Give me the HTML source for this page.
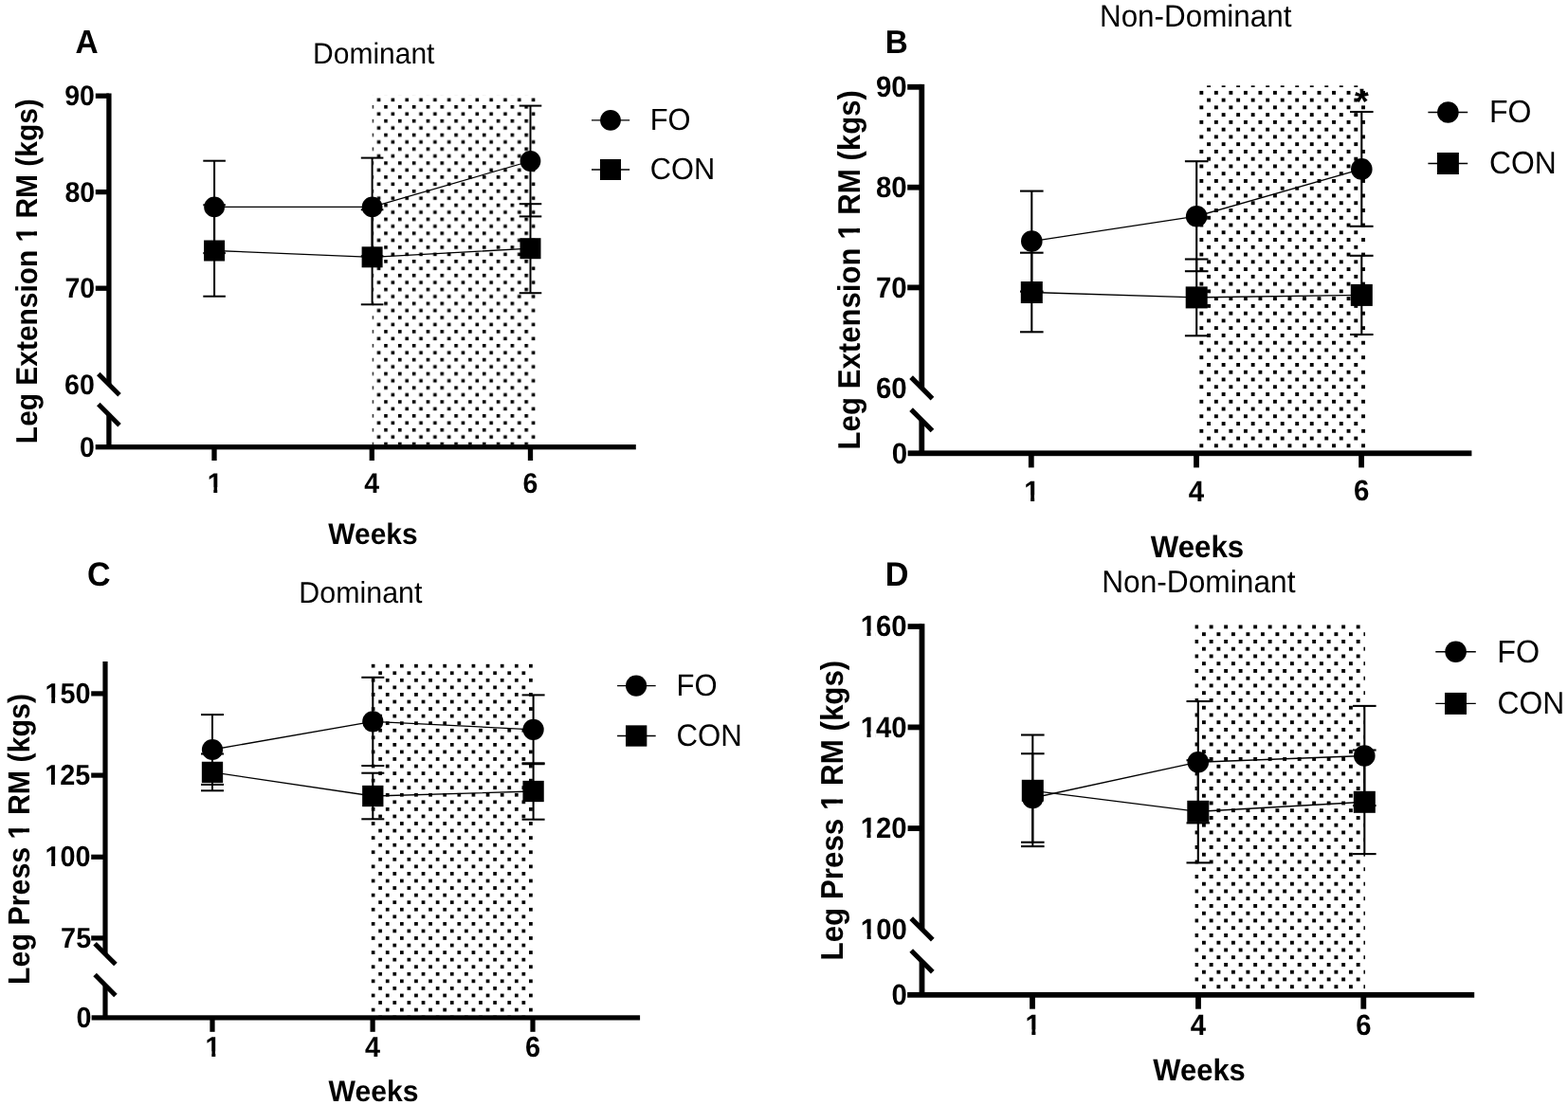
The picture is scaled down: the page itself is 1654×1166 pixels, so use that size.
<!DOCTYPE html>
<html><head><meta charset="utf-8"><title>Figure</title>
<style>
html,body{margin:0;padding:0;background:#fff;}
svg{display:block;}
text{font-family:'Liberation Sans', Arial, Helvetica, sans-serif;fill:#000;text-rendering:geometricPrecision;}
</style></head>
<body>
<svg width="1654" height="1166" viewBox="0 0 1654 1166">
<defs>
<pattern id='stA' patternUnits='userSpaceOnUse' x='405.2' y='333.3' width='14.82' height='14.82'><rect x='0' y='0' width='3.6' height='3.6'/><rect x='7.41' y='7.41' width='3.6' height='3.6'/></pattern>
<pattern id='stB' patternUnits='userSpaceOnUse' x='1273.15' y='336.45' width='15.52' height='15.52'><rect x='0' y='0' width='3.9' height='3.9'/><rect x='7.76' y='7.76' width='3.9' height='3.9'/></pattern>
<pattern id='stC' patternUnits='userSpaceOnUse' x='406.85' y='882.25' width='15.12' height='15.12'><rect x='0' y='0' width='3.7' height='3.7'/><rect x='7.56' y='7.56' width='3.7' height='3.7'/></pattern>
<pattern id='stD' patternUnits='userSpaceOnUse' x='1283.45' y='884.25' width='15.5' height='15.5'><rect x='0' y='0' width='3.9' height='3.9'/><rect x='7.75' y='7.75' width='3.9' height='3.9'/></pattern>
<clipPath id='c1' clipPathUnits='userSpaceOnUse'><path clip-rule='evenodd' d='M-14.25,-42.75H30.1V17.1H-14.25ZM-1.43,-5.7H6.65V4.27H-1.43ZM10.56,-5.7H15.68V4.27H10.56Z'/></clipPath>
<clipPath id='c2' clipPathUnits='userSpaceOnUse'><path clip-rule='evenodd' d='M-14.96,-44.87H378.95V17.95H-14.96ZM211.25,-5.98H219.73V4.49H211.25ZM223.83,-5.98H229.2V4.49H223.83Z'/></clipPath>
<clipPath id='c3' clipPathUnits='userSpaceOnUse'><path clip-rule='evenodd' d='M-14.75,-44.25H31.16V17.7H-14.75ZM-1.48,-5.9H6.89V4.42H-1.48ZM10.93,-5.9H16.23V4.42H10.93Z'/></clipPath>
<clipPath id='c4' clipPathUnits='userSpaceOnUse'><path clip-rule='evenodd' d='M-15.59,-46.77H395.03V18.71H-15.59ZM220.21,-6.24H229.05V4.68H220.21ZM233.33,-6.24H238.92V4.68H233.33Z'/></clipPath>
<clipPath id='c5' clipPathUnits='userSpaceOnUse'><path clip-rule='evenodd' d='M-14.43,-43.28H62.56V17.31H-14.43ZM-1.44,-5.77H6.73V4.33H-1.44ZM10.69,-5.77H15.87V4.33H10.69Z'/></clipPath>
<clipPath id='c6' clipPathUnits='userSpaceOnUse'><path clip-rule='evenodd' d='M-14.43,-43.28H62.56V17.31H-14.43ZM-1.44,-5.77H6.73V4.33H-1.44ZM10.69,-5.77H15.87V4.33H10.69Z'/></clipPath>
<clipPath id='c7' clipPathUnits='userSpaceOnUse'><path clip-rule='evenodd' d='M-14.43,-43.28H62.56V17.31H-14.43ZM-1.44,-5.77H6.73V4.33H-1.44ZM10.69,-5.77H15.87V4.33H10.69Z'/></clipPath>
<clipPath id='c8' clipPathUnits='userSpaceOnUse'><path clip-rule='evenodd' d='M-14.43,-43.28H30.47V17.31H-14.43ZM-1.44,-5.77H6.73V4.33H-1.44ZM10.69,-5.77H15.87V4.33H10.69Z'/></clipPath>
<clipPath id='c9' clipPathUnits='userSpaceOnUse'><path clip-rule='evenodd' d='M-15.18,-45.54H322.25V18.22H-15.18ZM152.04,-6.07H160.65V4.55H152.04ZM164.81,-6.07H170.26V4.55H164.81Z'/></clipPath>
<clipPath id='c10' clipPathUnits='userSpaceOnUse'><path clip-rule='evenodd' d='M-14.65,-43.95H63.54V17.58H-14.65ZM-1.47,-5.86H6.84V4.39H-1.47ZM10.86,-5.86H16.12V4.39H10.86Z'/></clipPath>
<clipPath id='c11' clipPathUnits='userSpaceOnUse'><path clip-rule='evenodd' d='M-14.65,-43.95H63.54V17.58H-14.65ZM-1.47,-5.86H6.84V4.39H-1.47ZM10.86,-5.86H16.12V4.39H10.86Z'/></clipPath>
<clipPath id='c12' clipPathUnits='userSpaceOnUse'><path clip-rule='evenodd' d='M-14.65,-43.95H63.54V17.58H-14.65ZM-1.47,-5.86H6.84V4.39H-1.47ZM10.86,-5.86H16.12V4.39H10.86Z'/></clipPath>
<clipPath id='c13' clipPathUnits='userSpaceOnUse'><path clip-rule='evenodd' d='M-14.65,-43.95H63.54V17.58H-14.65ZM-1.47,-5.86H6.84V4.39H-1.47ZM10.86,-5.86H16.12V4.39H10.86Z'/></clipPath>
<clipPath id='c14' clipPathUnits='userSpaceOnUse'><path clip-rule='evenodd' d='M-14.65,-43.95H30.95V17.58H-14.65ZM-1.47,-5.86H6.84V4.39H-1.47ZM10.86,-5.86H16.12V4.39H10.86Z'/></clipPath>
<clipPath id='c15' clipPathUnits='userSpaceOnUse'><path clip-rule='evenodd' d='M-15.66,-46.98H332.44V18.79H-15.66ZM156.85,-6.26H165.73V4.7H156.85ZM170.02,-6.26H175.64V4.7H170.02Z'/></clipPath>
</defs>
<rect width="1654" height="1166" fill="#fff"/>
<rect x='392.7' y='100.5' width='172.3' height='368.5' fill='url(#stA)'/>
<rect x='112.25' y='98.5' width='5.3' height='307.2'/>
<rect x='112.25' y='437.6' width='5.3' height='34.1'/>
<rect x='100.8' y='98.55' width='14.1' height='5.3'/>
<rect x='100.8' y='199.95' width='14.1' height='5.3'/>
<rect x='100.8' y='301.55' width='14.1' height='5.3'/>
<line x1='103.8' y1='394.6' x2='126' y2='416.8' stroke='#000' stroke-width='5'/>
<line x1='103.8' y1='426.5' x2='126' y2='448.7' stroke='#000' stroke-width='5'/>
<rect x='100.7' y='469.05' width='570.1' height='5.3'/>
<rect x='223.35' y='471.7' width='5.3' height='14.3'/>
<rect x='389.65' y='471.7' width='5.3' height='14.3'/>
<rect x='556.85' y='471.7' width='5.3' height='14.3'/>
<line x1='226.1' y1='169.7' x2='226.1' y2='267.1' stroke='#000' stroke-width='2'/>
<line x1='214.3' y1='169.7' x2='237.9' y2='169.7' stroke='#000' stroke-width='2'/>
<line x1='214.3' y1='267.1' x2='237.9' y2='267.1' stroke='#000' stroke-width='2'/>
<line x1='392.6' y1='166.6' x2='392.6' y2='270.2' stroke='#000' stroke-width='2'/>
<line x1='380.8' y1='166.6' x2='404.4' y2='166.6' stroke='#000' stroke-width='2'/>
<line x1='380.8' y1='270.2' x2='404.4' y2='270.2' stroke='#000' stroke-width='2'/>
<line x1='559.5' y1='111.6' x2='559.5' y2='228.4' stroke='#000' stroke-width='2'/>
<line x1='547.7' y1='111.6' x2='571.3' y2='111.6' stroke='#000' stroke-width='2'/>
<line x1='547.7' y1='228.4' x2='571.3' y2='228.4' stroke='#000' stroke-width='2'/>
<line x1='226.1' y1='216.3' x2='226.1' y2='312.7' stroke='#000' stroke-width='2'/>
<line x1='214.3' y1='216.3' x2='237.9' y2='216.3' stroke='#000' stroke-width='2'/>
<line x1='214.3' y1='312.7' x2='237.9' y2='312.7' stroke='#000' stroke-width='2'/>
<line x1='392.6' y1='221.3' x2='392.6' y2='321.3' stroke='#000' stroke-width='2'/>
<line x1='380.8' y1='221.3' x2='404.4' y2='221.3' stroke='#000' stroke-width='2'/>
<line x1='380.8' y1='321.3' x2='404.4' y2='321.3' stroke='#000' stroke-width='2'/>
<line x1='559.5' y1='215.2' x2='559.5' y2='309.2' stroke='#000' stroke-width='2'/>
<line x1='547.7' y1='215.2' x2='571.3' y2='215.2' stroke='#000' stroke-width='2'/>
<line x1='547.7' y1='309.2' x2='571.3' y2='309.2' stroke='#000' stroke-width='2'/>
<polyline points='226.1,218.4 392.6,218.4 559.5,170' fill='none' stroke='#000' stroke-width='1.3'/>
<polyline points='226.1,264.5 392.6,271.3 559.5,262.2' fill='none' stroke='#000' stroke-width='1.3'/>
<circle cx='226.1' cy='218.4' r='10.9'/>
<circle cx='392.6' cy='218.4' r='10.9'/>
<circle cx='559.5' cy='170' r='10.9'/>
<rect x='215.1' y='253.5' width='22' height='22'/>
<rect x='381.6' y='260.3' width='22' height='22'/>
<rect x='548.5' y='251.2' width='22' height='22'/>
<line x1='624' y1='126.9' x2='664.2' y2='126.9' stroke='#000' stroke-width='1.3'/>
<circle cx='644' cy='126.9' r='10.9'/>
<line x1='624' y1='179' x2='664.2' y2='179' stroke='#000' stroke-width='1.3'/>
<rect x='633' y='168' width='22' height='22'/>
<text transform='translate(685.63,136.8) scale(1,1.04)' font-size='30.87' font-weight='400'>FO</text>
<text transform='translate(685.86,188.8) scale(1,1.04)' font-size='30.77' font-weight='400'>CON</text>
<text transform='translate(68.25,111.3) scale(1,1.05)' font-size='28.5' font-weight='700'>90</text>
<text transform='translate(68.5,212.6) scale(1,1.05)' font-size='28.5' font-weight='700'>80</text>
<text transform='translate(68.5,314.3) scale(1,1.05)' font-size='28.5' font-weight='700'>70</text>
<text transform='translate(68.1,415.6) scale(1,1.05)' font-size='28.5' font-weight='700'>60</text>
<text transform='translate(83.92,482.1) scale(1,1.05)' font-size='28.5' font-weight='700'>0</text>
<text transform='translate(218.69,519.88) scale(1,1.05)' font-size='28.5' font-weight='700' clip-path='url(#c1)'>1</text>
<text transform='translate(384.25,519.88) scale(1,1.05)' font-size='28.5' font-weight='700'>4</text>
<text transform='translate(551.59,519.6) scale(1,1.05)' font-size='28.5' font-weight='700'>6</text>
<text transform='translate(346.3,574.3) scale(1,1.04)' font-size='29.94' font-weight='700'>Weeks</text>
<text transform='translate(330.1,67.2) scale(1,1.04)' font-size='29.99' font-weight='400'>Dominant</text>
<text transform='translate(79.46,55.93) scale(1,1.04)' font-size='33.43' font-weight='700'>A</text>
<text transform='translate(38.9,468.14) rotate(-90) scale(1,1.06)' font-size='29.91' font-weight='700' clip-path='url(#c2)'>Leg Extension 1 RM (kgs)</text>
<rect x='1265' y='90.3' width='175.8' height='385.2' fill='url(#stB)'/>
<rect x='969.4' y='88.9' width='5.8' height='320.5'/>
<rect x='969.4' y='443.3' width='5.8' height='35'/>
<rect x='957.2' y='88.9' width='15.1' height='5.8'/>
<rect x='957.2' y='194.8' width='15.1' height='5.8'/>
<rect x='957.2' y='300.5' width='15.1' height='5.8'/>
<line x1='961.1' y1='398.2' x2='983.5' y2='420.6' stroke='#000' stroke-width='5.2'/>
<line x1='961.1' y1='432.1' x2='983.5' y2='454.5' stroke='#000' stroke-width='5.2'/>
<rect x='957.6' y='475.4' width='594.8' height='5.8'/>
<rect x='1084.9' y='478.3' width='5.8' height='15.1'/>
<rect x='1259.1' y='478.3' width='5.8' height='15.1'/>
<rect x='1433.2' y='478.3' width='5.8' height='15.1'/>
<line x1='1088.3' y1='201.6' x2='1088.3' y2='307.6' stroke='#000' stroke-width='2.09'/>
<line x1='1076' y1='201.6' x2='1100.6' y2='201.6' stroke='#000' stroke-width='2.09'/>
<line x1='1076' y1='307.6' x2='1100.6' y2='307.6' stroke='#000' stroke-width='2.09'/>
<line x1='1262.2' y1='170.2' x2='1262.2' y2='286.2' stroke='#000' stroke-width='2.09'/>
<line x1='1249.9' y1='170.2' x2='1274.5' y2='170.2' stroke='#000' stroke-width='2.09'/>
<line x1='1249.9' y1='286.2' x2='1274.5' y2='286.2' stroke='#000' stroke-width='2.09'/>
<line x1='1436.3' y1='118' x2='1436.3' y2='238.8' stroke='#000' stroke-width='2.09'/>
<line x1='1424' y1='118' x2='1448.6' y2='118' stroke='#000' stroke-width='2.09'/>
<line x1='1424' y1='238.8' x2='1448.6' y2='238.8' stroke='#000' stroke-width='2.09'/>
<line x1='1088.3' y1='266.7' x2='1088.3' y2='350.3' stroke='#000' stroke-width='2.09'/>
<line x1='1076' y1='266.7' x2='1100.6' y2='266.7' stroke='#000' stroke-width='2.09'/>
<line x1='1076' y1='350.3' x2='1100.6' y2='350.3' stroke='#000' stroke-width='2.09'/>
<line x1='1262.2' y1='273.5' x2='1262.2' y2='354.3' stroke='#000' stroke-width='2.09'/>
<line x1='1249.9' y1='273.5' x2='1274.5' y2='273.5' stroke='#000' stroke-width='2.09'/>
<line x1='1249.9' y1='354.3' x2='1274.5' y2='354.3' stroke='#000' stroke-width='2.09'/>
<line x1='1436.3' y1='269.8' x2='1436.3' y2='353' stroke='#000' stroke-width='2.09'/>
<line x1='1424' y1='269.8' x2='1448.6' y2='269.8' stroke='#000' stroke-width='2.09'/>
<line x1='1424' y1='353' x2='1448.6' y2='353' stroke='#000' stroke-width='2.09'/>
<polyline points='1088.3,254.6 1262.2,228.2 1436.3,178.4' fill='none' stroke='#000' stroke-width='1.36'/>
<polyline points='1088.3,308.5 1262.2,313.9 1436.3,311.4' fill='none' stroke='#000' stroke-width='1.36'/>
<circle cx='1088.3' cy='254.6' r='11.3'/>
<circle cx='1262.2' cy='228.2' r='11.3'/>
<circle cx='1436.3' cy='178.4' r='11.3'/>
<rect x='1076.8' y='297' width='23' height='23'/>
<rect x='1250.7' y='302.4' width='23' height='23'/>
<rect x='1424.8' y='299.9' width='23' height='23'/>
<line x1='1506.4' y1='118.5' x2='1548.2' y2='118.5' stroke='#000' stroke-width='1.36'/>
<circle cx='1527.4' cy='118.5' r='11.3'/>
<line x1='1506.4' y1='172.5' x2='1548.2' y2='172.5' stroke='#000' stroke-width='1.36'/>
<rect x='1515.9' y='161' width='23' height='23'/>
<text transform='translate(1571.03,128.9) scale(1,1.04)' font-size='32.06' font-weight='400'>FO</text>
<text transform='translate(1571.01,183.2) scale(1,1.04)' font-size='31.87' font-weight='400'>CON</text>
<text transform='translate(923.93,102.4) scale(1,1.05)' font-size='29.5' font-weight='700'>90</text>
<text transform='translate(923.93,208.2) scale(1,1.05)' font-size='29.5' font-weight='700'>80</text>
<text transform='translate(923.93,313.9) scale(1,1.05)' font-size='29.5' font-weight='700'>70</text>
<text transform='translate(923.93,420.2) scale(1,1.05)' font-size='29.5' font-weight='700'>60</text>
<text transform='translate(940.81,488.6) scale(1,1.05)' font-size='29.5' font-weight='700'>0</text>
<text transform='translate(1080.25,528.5) scale(1,1.05)' font-size='29.5' font-weight='700' clip-path='url(#c3)'>1</text>
<text transform='translate(1253.67,528.5) scale(1,1.05)' font-size='29.5' font-weight='700'>4</text>
<text transform='translate(1427.91,528.2) scale(1,1.05)' font-size='29.5' font-weight='700'>6</text>
<text transform='translate(1213.8,587.8) scale(1,1.04)' font-size='31.25' font-weight='700'>Weeks</text>
<text transform='translate(1159.99,27.8) scale(1,1.04)' font-size='31.4' font-weight='400'>Non-Dominant</text>
<text transform='translate(933.74,55.93) scale(1,1.04)' font-size='33.28' font-weight='700'>B</text>
<text transform='translate(907,474.43) rotate(-90) scale(1,1.06)' font-size='31.18' font-weight='700' clip-path='url(#c4)'>Leg Extension 1 RM (kgs)</text>
<text x='1428.89' y='119.59' font-size='38' font-weight='700'>*</text>
<rect x='391.3' y='698' width='171.7' height='373.5' fill='url(#stC)'/>
<rect x='108.4' y='698' width='5.2' height='308.7'/>
<rect x='108.4' y='1039.5' width='5.2' height='34.4'/>
<rect x='96.2' y='729.3' width='14.8' height='5.2'/>
<rect x='96.2' y='815.5' width='14.8' height='5.2'/>
<rect x='96.2' y='901.7' width='14.8' height='5.2'/>
<rect x='96.2' y='987.3' width='14.8' height='5.2'/>
<line x1='100.1' y1='995.8' x2='121.9' y2='1017.6' stroke='#000' stroke-width='5'/>
<line x1='100.1' y1='1028.6' x2='121.9' y2='1050.4' stroke='#000' stroke-width='5'/>
<rect x='96.6' y='1071.3' width='578.5' height='5.2'/>
<rect x='221.4' y='1073.9' width='5.2' height='14.9'/>
<rect x='390.5' y='1073.9' width='5.2' height='14.9'/>
<rect x='559.4' y='1073.9' width='5.2' height='14.9'/>
<line x1='224' y1='754.1' x2='224' y2='827.9' stroke='#000' stroke-width='2.04'/>
<line x1='212' y1='754.1' x2='236' y2='754.1' stroke='#000' stroke-width='2.04'/>
<line x1='212' y1='827.9' x2='236' y2='827.9' stroke='#000' stroke-width='2.04'/>
<line x1='393.3' y1='714.8' x2='393.3' y2='808' stroke='#000' stroke-width='2.04'/>
<line x1='381.3' y1='714.8' x2='405.3' y2='714.8' stroke='#000' stroke-width='2.04'/>
<line x1='381.3' y1='808' x2='405.3' y2='808' stroke='#000' stroke-width='2.04'/>
<line x1='562.6' y1='733.4' x2='562.6' y2='806.2' stroke='#000' stroke-width='2.04'/>
<line x1='550.6' y1='733.4' x2='574.6' y2='733.4' stroke='#000' stroke-width='2.04'/>
<line x1='550.6' y1='806.2' x2='574.6' y2='806.2' stroke='#000' stroke-width='2.04'/>
<line x1='224' y1='795.5' x2='224' y2='834.3' stroke='#000' stroke-width='2.04'/>
<line x1='212' y1='795.5' x2='236' y2='795.5' stroke='#000' stroke-width='2.04'/>
<line x1='212' y1='834.3' x2='236' y2='834.3' stroke='#000' stroke-width='2.04'/>
<line x1='393.3' y1='815.7' x2='393.3' y2='864.3' stroke='#000' stroke-width='2.04'/>
<line x1='381.3' y1='815.7' x2='405.3' y2='815.7' stroke='#000' stroke-width='2.04'/>
<line x1='381.3' y1='864.3' x2='405.3' y2='864.3' stroke='#000' stroke-width='2.04'/>
<line x1='562.6' y1='805.3' x2='562.6' y2='864.7' stroke='#000' stroke-width='2.04'/>
<line x1='550.6' y1='805.3' x2='574.6' y2='805.3' stroke='#000' stroke-width='2.04'/>
<line x1='550.6' y1='864.7' x2='574.6' y2='864.7' stroke='#000' stroke-width='2.04'/>
<polyline points='224,791 393.3,761.4 562.6,769.8' fill='none' stroke='#000' stroke-width='1.32'/>
<polyline points='224,814.9 393.3,840 562.6,835' fill='none' stroke='#000' stroke-width='1.32'/>
<circle cx='224' cy='791' r='11.1'/>
<circle cx='393.3' cy='761.4' r='11.1'/>
<circle cx='562.6' cy='769.8' r='11.1'/>
<rect x='212.85' y='803.75' width='22.3' height='22.3'/>
<rect x='382.15' y='828.85' width='22.3' height='22.3'/>
<rect x='551.45' y='823.85' width='22.3' height='22.3'/>
<line x1='651.1' y1='723.6' x2='691.7' y2='723.6' stroke='#000' stroke-width='1.32'/>
<circle cx='671.1' cy='723.6' r='11.1'/>
<line x1='651.1' y1='776.5' x2='691.7' y2='776.5' stroke='#000' stroke-width='1.32'/>
<rect x='660.05' y='765.35' width='22.3' height='22.3'/>
<text transform='translate(713.62,734) scale(1,1.04)' font-size='31.03' font-weight='400'>FO</text>
<text transform='translate(713.54,786.8) scale(1,1.04)' font-size='31.2' font-weight='400'>CON</text>
<text transform='translate(47.47,742) scale(1,1.05)' font-size='28.85' font-weight='700' clip-path='url(#c5)'>150</text>
<text transform='translate(47.19,828.2) scale(1,1.05)' font-size='28.85' font-weight='700' clip-path='url(#c6)'>125</text>
<text transform='translate(47.47,914.4) scale(1,1.05)' font-size='28.85' font-weight='700' clip-path='url(#c7)'>100</text>
<text transform='translate(64.1,1000.4) scale(1,1.05)' font-size='28.85' font-weight='700'>75</text>
<text transform='translate(80.54,1083.8) scale(1,1.05)' font-size='28.85' font-weight='700'>0</text>
<text transform='translate(216.61,1115.29) scale(1,1.05)' font-size='28.85' font-weight='700' clip-path='url(#c8)'>1</text>
<text transform='translate(384.95,1115.29) scale(1,1.05)' font-size='28.85' font-weight='700'>4</text>
<text transform='translate(553.99,1115) scale(1,1.05)' font-size='28.85' font-weight='700'>6</text>
<text transform='translate(346.6,1161.6) scale(1,1.04)' font-size='30.13' font-weight='700'>Weeks</text>
<text transform='translate(315.37,635.9) scale(1,1.04)' font-size='30.39' font-weight='400'>Dominant</text>
<text transform='translate(91.94,618) scale(1,1.04)' font-size='34.05' font-weight='700'>C</text>
<text transform='translate(30.6,1038.97) rotate(-90) scale(1,1.06)' font-size='30.36' font-weight='700' clip-path='url(#c9)'>Leg Press 1 RM (kgs)</text>
<rect x='1260.5' y='658.2' width='179.5' height='388.8' fill='url(#stD)'/>
<rect x='969.6' y='658.2' width='5.8' height='322.2'/>
<rect x='969.6' y='1014.3' width='5.8' height='35.5'/>
<rect x='957.6' y='658.2' width='14.9' height='5.8'/>
<rect x='957.6' y='764.5' width='14.9' height='5.8'/>
<rect x='957.6' y='871.2' width='14.9' height='5.8'/>
<line x1='961.2' y1='969.1' x2='983.8' y2='991.7' stroke='#000' stroke-width='5.2'/>
<line x1='961.2' y1='1003' x2='983.8' y2='1025.6' stroke='#000' stroke-width='5.2'/>
<rect x='957.1' y='1046.9' width='598.1' height='5.8'/>
<rect x='1086.1' y='1049.8' width='5.8' height='14.9'/>
<rect x='1261.1' y='1049.8' width='5.8' height='14.9'/>
<rect x='1435.4' y='1049.8' width='5.8' height='14.9'/>
<line x1='1089.3' y1='795.25' x2='1089.3' y2='888.75' stroke='#000' stroke-width='2.09'/>
<line x1='1077' y1='795.25' x2='1101.6' y2='795.25' stroke='#000' stroke-width='2.09'/>
<line x1='1077' y1='888.75' x2='1101.6' y2='888.75' stroke='#000' stroke-width='2.09'/>
<line x1='1263.8' y1='740' x2='1263.8' y2='868.4' stroke='#000' stroke-width='2.09'/>
<line x1='1251.5' y1='740' x2='1276.1' y2='740' stroke='#000' stroke-width='2.09'/>
<line x1='1251.5' y1='868.4' x2='1276.1' y2='868.4' stroke='#000' stroke-width='2.09'/>
<line x1='1439.3' y1='744.9' x2='1439.3' y2='850.1' stroke='#000' stroke-width='2.09'/>
<line x1='1427' y1='744.9' x2='1451.6' y2='744.9' stroke='#000' stroke-width='2.09'/>
<line x1='1427' y1='850.1' x2='1451.6' y2='850.1' stroke='#000' stroke-width='2.09'/>
<line x1='1089.3' y1='775.5' x2='1089.3' y2='893.1' stroke='#000' stroke-width='2.09'/>
<line x1='1077' y1='775.5' x2='1101.6' y2='775.5' stroke='#000' stroke-width='2.09'/>
<line x1='1077' y1='893.1' x2='1101.6' y2='893.1' stroke='#000' stroke-width='2.09'/>
<line x1='1263.8' y1='802.2' x2='1263.8' y2='910.4' stroke='#000' stroke-width='2.09'/>
<line x1='1251.5' y1='802.2' x2='1276.1' y2='802.2' stroke='#000' stroke-width='2.09'/>
<line x1='1251.5' y1='910.4' x2='1276.1' y2='910.4' stroke='#000' stroke-width='2.09'/>
<line x1='1439.3' y1='791.5' x2='1439.3' y2='901.1' stroke='#000' stroke-width='2.09'/>
<line x1='1427' y1='791.5' x2='1451.6' y2='791.5' stroke='#000' stroke-width='2.09'/>
<line x1='1427' y1='901.1' x2='1451.6' y2='901.1' stroke='#000' stroke-width='2.09'/>
<polyline points='1089.3,842 1263.8,804.2 1439.3,797.5' fill='none' stroke='#000' stroke-width='1.36'/>
<polyline points='1089.3,834.3 1263.8,856.3 1439.3,846.3' fill='none' stroke='#000' stroke-width='1.36'/>
<circle cx='1089.3' cy='842' r='11.3'/>
<circle cx='1263.8' cy='804.2' r='11.3'/>
<circle cx='1439.3' cy='797.5' r='11.3'/>
<rect x='1077.8' y='822.8' width='23' height='23'/>
<rect x='1252.3' y='844.8' width='23' height='23'/>
<rect x='1427.8' y='834.8' width='23' height='23'/>
<line x1='1514.3' y1='687.8' x2='1556.8' y2='687.8' stroke='#000' stroke-width='1.36'/>
<circle cx='1535.6' cy='687.8' r='11.3'/>
<line x1='1514.3' y1='742.4' x2='1556.8' y2='742.4' stroke='#000' stroke-width='1.36'/>
<rect x='1524' y='730.9' width='23' height='23'/>
<text transform='translate(1579.32,698.5) scale(1,1.04)' font-size='32.3' font-weight='400'>FO</text>
<text transform='translate(1579.41,753.4) scale(1,1.04)' font-size='31.87' font-weight='400'>CON</text>
<text transform='translate(907.64,671.3) scale(1,1.05)' font-size='29.3' font-weight='700' clip-path='url(#c10)'>160</text>
<text transform='translate(907.64,777.6) scale(1,1.05)' font-size='29.3' font-weight='700' clip-path='url(#c11)'>140</text>
<text transform='translate(907.64,884.3) scale(1,1.05)' font-size='29.3' font-weight='700' clip-path='url(#c12)'>120</text>
<text transform='translate(907.84,990.8) scale(1,1.05)' font-size='29.3' font-weight='700' clip-path='url(#c13)'>100</text>
<text transform='translate(940.51,1059.7) scale(1,1.05)' font-size='29.3' font-weight='700'>0</text>
<text transform='translate(1081.51,1092.39) scale(1,1.05)' font-size='29.3' font-weight='700' clip-path='url(#c14)'>1</text>
<text transform='translate(1255.72,1092.39) scale(1,1.05)' font-size='29.3' font-weight='700'>4</text>
<text transform='translate(1430.17,1092.1) scale(1,1.05)' font-size='29.3' font-weight='700'>6</text>
<text transform='translate(1216.3,1140.1) scale(1,1.04)' font-size='30.96' font-weight='700'>Weeks</text>
<text transform='translate(1162.16,625.3) scale(1,1.04)' font-size='31.7' font-weight='400'>Non-Dominant</text>
<text transform='translate(933.67,617.84) scale(1,1.04)' font-size='34.31' font-weight='700'>D</text>
<text transform='translate(889.1,1013.44) rotate(-90) scale(1,1.06)' font-size='31.32' font-weight='700' clip-path='url(#c15)'>Leg Press 1 RM (kgs)</text>
</svg>
</body></html>
